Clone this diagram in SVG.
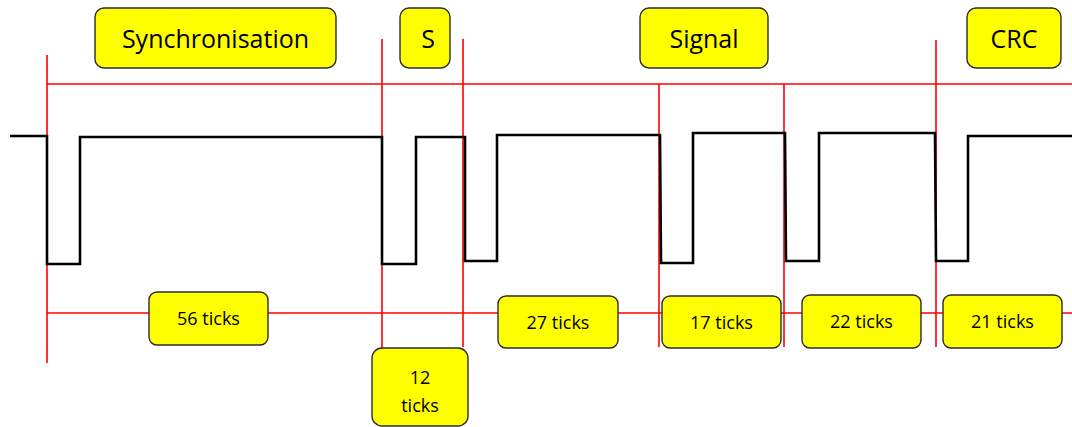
<svg xmlns="http://www.w3.org/2000/svg" width="1072" height="427" viewBox="0 0 1072 427">
  <style>
    .box { fill: #ffff00; stroke: #2b2b2b; stroke-width: 1.4; }
    .grid { stroke: #ff0000; stroke-width: 1.6; fill: none; }
    .wave { stroke: #000000; stroke-width: 2.6; fill: none; stroke-linejoin: miter; }
    .title { font-family: "Open Sans", "Noto Sans", sans-serif; font-size: 25px; fill: #000; text-anchor: middle; }
    .tick { font-family: "Open Sans", "Noto Sans", sans-serif; font-size: 18px; fill: #000; text-anchor: middle; }
  </style>
  <rect width="1072" height="427" fill="#ffffff"/>

  <!-- frame lines: section boundaries and reference rails -->
  <g id="connectors">
    <line class="grid" x1="47" y1="84" x2="1072" y2="84"/>
    <line class="grid" x1="47" y1="313" x2="1072" y2="313"/>
    <line class="grid" x1="47" y1="55" x2="47" y2="363"/>
    <line class="grid" x1="382" y1="39" x2="382" y2="348"/>
    <line class="grid" x1="463" y1="39" x2="463" y2="347"/>
    <line class="grid" x1="659" y1="84" x2="659" y2="347"/>
    <line class="grid" x1="784" y1="84" x2="784" y2="347"/>
    <line class="grid" x1="936" y1="40" x2="936" y2="347"/>
  </g>

  <!-- pulse train -->
  <g id="waveform">
    <polyline class="wave" points="10,136 47,136 47,264 80,264 80,137 382,137 382,264 416,264 416,137 465,137 465,261 497,261 497,135 660,135 661,263 693,263 693,133 785,133 786,261 819,261 819,133 935,133 936,261 968,261 968,136 1072,136"/>
  </g>

  <!-- section headers -->
  <g id="sync">
    <rect class="box" x="95" y="8" width="241" height="60" rx="9"/>
    <text class="title" x="215.5" y="48">Synchronisation</text>
  </g>
  <g id="s">
    <rect class="box" x="400" y="8" width="50" height="60" rx="9"/>
    <text class="title" x="428" y="48">S</text>
  </g>
  <g id="signal">
    <rect class="box" x="640" y="8" width="128" height="60" rx="9"/>
    <text class="title" x="704" y="48">Signal</text>
  </g>
  <g id="crc">
    <rect class="box" x="967" y="8" width="94" height="60" rx="9"/>
    <text class="title" x="1014" y="48">CRC</text>
  </g>

  <!-- durations -->
  <g id="t56">
    <rect class="box" x="149" y="292" width="119" height="53" rx="8"/>
    <text class="tick" x="208.5" y="325">56 ticks</text>
  </g>
  <g id="t12">
    <rect class="box" x="372" y="348" width="96" height="78" rx="10"/>
    <text class="tick" x="420" y="384">12</text>
    <text class="tick" x="420" y="412">ticks</text>
  </g>
  <g id="t27">
    <rect class="box" x="498" y="296" width="120" height="52" rx="8"/>
    <text class="tick" x="558" y="329">27 ticks</text>
  </g>
  <g id="t17">
    <rect class="box" x="662" y="296" width="119" height="52" rx="8"/>
    <text class="tick" x="721.5" y="329">17 ticks</text>
  </g>
  <g id="t22">
    <rect class="box" x="802" y="295" width="119" height="53" rx="8"/>
    <text class="tick" x="861.5" y="328">22 ticks</text>
  </g>
  <g id="t21">
    <rect class="box" x="943" y="295" width="119" height="53" rx="8"/>
    <text class="tick" x="1002.5" y="328">21 ticks</text>
  </g>
</svg>
